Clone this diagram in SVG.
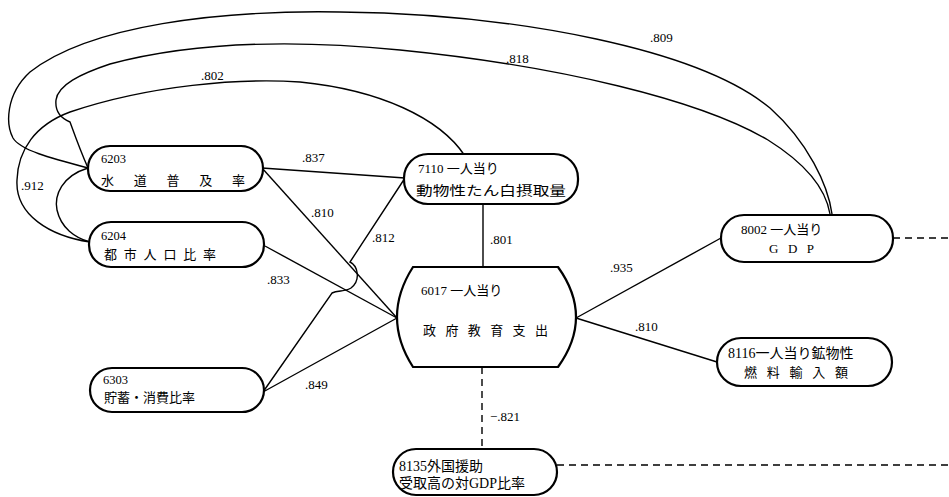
<svg xmlns="http://www.w3.org/2000/svg" width="949" height="497" viewBox="0 0 949 497">
<style>
.box{fill:#fff;stroke:#000;stroke-width:2.2}
.ln{fill:none;stroke:#000;stroke-width:1.4}
.dash{fill:none;stroke:#000;stroke-width:1.4;stroke-dasharray:7 5}
.t{font-family:"Liberation Serif","Noto Sans CJK JP",serif;font-size:13px;fill:#000}
.s{font-family:"Liberation Serif","Noto Sans CJK JP",serif;font-size:14px;fill:#000}
.n{font-family:"Liberation Serif",serif;font-size:12.5px;fill:#000}
.lab{font-family:"Liberation Serif",serif;font-size:13px;fill:#000}
</style>
<rect width="949" height="497" fill="#fff"/>
<g id="connectors">
<path class="ln" d="M 88,168 C 50,158 20,150 13,138 C 6,125 5,95 30,72 C 90,25 220,10 340,12 C 520,14 700,50 770,108 C 808,142 828,185 832,214"/>
<path class="ln" d="M 88,168 C 80,150 74,133 70,122 C 60,118 55,110 56,100 C 58,85 80,74 110,64 C 200,40 300,40 400,50 C 560,66 700,100 768,140 C 808,165 826,190 830,214"/>
<path class="ln" d="M 90,242 C 50,236 15,215 17,180 C 18,150 35,125 70,112 C 150,85 240,78 300,82 C 380,90 440,118 465,156"/>
<path class="ln" d="M 88,168 C 62,176 54,195 57,210 C 61,228 75,238 90,242"/>
<path class="ln" d="M 262,168 L 405,178"/>
<path class="ln" d="M 262,168 L 397,318"/>
<path class="ln" d="M 265,246 L 397,318"/>
<path class="ln" d="M 263,392 L 397,318"/>
<path class="ln" d="M 405,178 L 350,262 C 358,266 361,280 351,288 C 345,292 338,290 332,293 L 263,392"/>
<path class="ln" d="M 483,204 L 483,267"/>
<path class="ln" d="M 576,318 L 721,238"/>
<path class="ln" d="M 576,318 L 717,362"/>
<path class="dash" d="M 482,367 L 482,449"/>
<path class="dash" d="M 893,238 L 949,238"/>
<path class="dash" d="M 557,465 L 949,465"/>
<text class="lab" x="650" y="42">.809</text>
<text class="lab" x="506" y="63">.818</text>
<text class="lab" x="201" y="80">.802</text>
<text class="lab" x="21" y="190">.912</text>
<text class="lab" x="302" y="162">.837</text>
<text class="lab" x="311" y="217">.810</text>
<text class="lab" x="372" y="242">.812</text>
<text class="lab" x="490" y="244">.801</text>
<text class="lab" x="267" y="284">.833</text>
<text class="lab" x="305" y="389">.849</text>
<text class="lab" x="610" y="272">.935</text>
<text class="lab" x="635" y="331">.810</text>
<text class="lab" x="490" y="421">−.821</text>
</g>
<g id="n6203">
<rect class="box" x="88" y="146" width="175" height="45" rx="22"/>
<text class="n" x="101" y="163">6203</text>
<text class="t" x="101" y="185" textLength="144" lengthAdjust="spacing">水道普及率</text>
</g>
<g id="n6204">
<rect class="box" x="89" y="222" width="175" height="45" rx="22"/>
<text class="n" x="101" y="240">6204</text>
<text class="t" x="104" y="259" textLength="112" lengthAdjust="spacing">都市人口比率</text>
</g>
<g id="n6303">
<rect class="box" x="90" y="368" width="174" height="44" rx="22"/>
<text class="n" x="103" y="384">6303</text>
<text class="t" x="104" y="402">貯蓄・消費比率</text>
</g>
<g id="n7110">
<rect class="box" x="404" y="154" width="174" height="50" rx="24"/>
<text class="t" x="418" y="173">7110 一人当り</text>
<text class="t" x="416" y="195" textLength="150" lengthAdjust="spacingAndGlyphs">動物性たん白摂取量</text>
</g>
<g id="n6017">
<path class="box" d="M 413,267 L 558,267 Q 594,317 558,367 L 413,367 Q 381,317 413,267 Z"/>
<text class="t" x="421" y="295">6017 一人当り</text>
<text class="t" x="423" y="335" textLength="125" lengthAdjust="spacing">政府教育支出</text>
</g>
<g id="n8002">
<rect class="box" x="721" y="215" width="172" height="47" rx="23"/>
<text class="t" x="741" y="234">8002 一人当り</text>
<text class="t" x="769" y="253" textLength="45" lengthAdjust="spacing">GDP</text>
</g>
<g id="n8116">
<rect class="box" x="717" y="338" width="175" height="48" rx="24"/>
<text class="s" x="728" y="358" font-size="14.5">8116一人当り鉱物性</text>
<text class="t" x="744" y="377" textLength="104" lengthAdjust="spacing">燃料輸入額</text>
</g>
<g id="n8135">
<rect class="box" x="393" y="449" width="164" height="46" rx="23"/>
<text class="s" x="399" y="471">8135外国援助</text>
<text class="s" x="399" y="488">受取高の対GDP比率</text>
</g>
</svg>
